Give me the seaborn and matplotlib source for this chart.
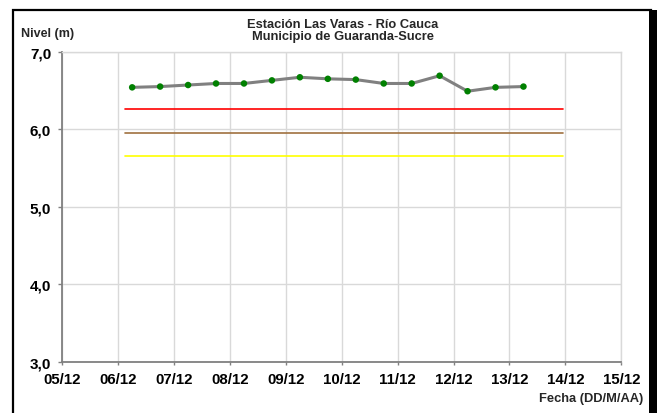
import numpy as np
import pandas as pd
import matplotlib
matplotlib.use("Agg")
import matplotlib.pyplot as plt
import matplotlib.dates as mdates
from matplotlib.patches import Rectangle
import seaborn as sns

# ---- data ----
fechas = pd.date_range("2010-12-06 06:00", periods=15, freq="12h")
nivel = [6.54, 6.55, 6.57, 6.59, 6.59, 6.63, 6.67, 6.65, 6.64, 6.59, 6.59, 6.69, 6.49, 6.54, 6.55]
umbral_nombres = ["rojo", "cafe", "amarillo"]
umbral_valores = [6.26, 5.95, 5.66]
umbral_colores = ["#FF0000", "#A0713F", "#FFFF00"]
umbral_fechas = pd.to_datetime(["2010-12-06 03:00", "2010-12-13 23:00"])
xticks = pd.date_range("2010-12-05", "2010-12-15", freq="D")
yticks = [3.0, 4.0, 5.0, 6.0, 7.0]
titulo = "Estación Las Varas - Río Cauca\nMunicipio de Guaranda-Sucre"

sns.set_theme(style="white")
plt.rcParams["font.family"] = ["Liberation Sans", "DejaVu Sans"]
plt.rcParams["font.weight"] = "bold"

W, H = 657, 414
fig = plt.figure(figsize=(W / 100, H / 100), dpi=100)
fig.patch.set_facecolor("white")
ax = fig.add_axes([62.3 / W, 1 - 362.7 / H, (621.3 - 62.3) / W, (362.7 - 52.7) / H])

grid_c = "#D9D9D9"
ax.set_axisbelow(True)
ax.grid(True, color=grid_c, linewidth=1.0)

# threshold lines
df_u = pd.DataFrame({
    "fecha": list(umbral_fechas) * len(umbral_valores),
    "valor": [v for v in umbral_valores for _ in range(2)],
    "nombre": [n for n in umbral_nombres for _ in range(2)],
})
sns.lineplot(data=df_u, x="fecha", y="valor", hue="nombre", palette=dict(zip(umbral_nombres, umbral_colores)),
             linewidth=1.2, legend=False, ax=ax, zorder=2)

df = pd.DataFrame({"fecha": fechas, "nivel": nivel})
sns.lineplot(data=df, x="fecha", y="nivel", color="#808080", linewidth=2.2, ax=ax, zorder=3)
sns.scatterplot(data=df, x="fecha", y="nivel", color="#008000", s=22, edgecolor="none", ax=ax, zorder=4)

ax.set_xlim(xticks[0], xticks[-1])
ax.set_ylim(3.0, 7.0)
ax.set_xticks(xticks)
ax.xaxis.set_major_formatter(mdates.DateFormatter("%d/%m"))
ax.set_yticks(yticks)
ax.set_yticklabels([f"{v:.1f}".replace(".", ",") for v in yticks])
ax.set_xlabel("")
ax.set_ylabel("")

for s in ["top", "right"]:
    ax.spines[s].set_color(grid_c)
    ax.spines[s].set_linewidth(1.0)
for s in ["left", "bottom"]:
    ax.spines[s].set_color("#808080")
    ax.spines[s].set_linewidth(1.3)

ax.tick_params(axis="y", direction="out", length=3, width=1, color="#808080", pad=5,
               labelsize=11, labelcolor="black", left=True)
ax.tick_params(axis="x", direction="out", length=2.5, width=1, color="#808080", pad=5,
               labelsize=10.8, labelcolor="black", bottom=True)
for lab in ax.get_xticklabels() + ax.get_yticklabels():
    lab.set_fontweight("bold")

fig.text(343 / W, 1 - 31 / H, titulo, ha="center", va="center", fontsize=9.3,
         fontweight="bold", linespacing=1.0)
fig.text(21 / W, 1 - 33.5 / H, "Nivel (m)", ha="left", va="center", fontsize=9, fontweight="bold")
fig.text(643 / W, 1 - 399 / H, "Fecha (DD/M/AA)", ha="right", va="center", fontsize=9.3, fontweight="bold")

# outer frame
fig.patches.append(Rectangle((13 / W, -0.1), (651 - 13) / W, 1.1 - 11 / H, transform=fig.transFigure,
                             fill=False, edgecolor="black", linewidth=1.6, zorder=10))
fig.patches.append(Rectangle((649 / W, -0.1), 10 / W, 1.1 - 11 / H, transform=fig.transFigure,
                             facecolor="black", edgecolor="none", zorder=10))

fig.savefig("out.png", dpi=100)
